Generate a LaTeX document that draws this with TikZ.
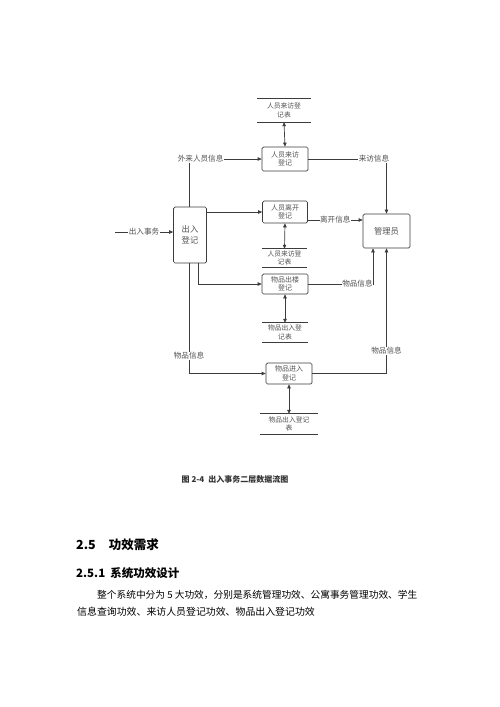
\documentclass[tikz,border=0pt]{standalone}
\usepackage{fontspec}
\setmainfont{Noto Sans CJK SC}
\usetikzlibrary{arrows.meta}
\definecolor{linegray}{HTML}{3C3C3C}
\definecolor{textgray}{HTML}{505050}
\begin{document}
\begin{tikzpicture}[x=1pt,y=-1pt,
	proc/.style={draw=linegray,line width=0.7pt,rounded corners=1.5pt,inner sep=0pt,align=center,text=textgray,font=\fontsize{7}{8.5}\selectfont},
	store/.style={inner sep=0pt,align=center,text=textgray,font=\fontsize{6.8}{8.5}\selectfont},
	flow/.style={draw=linegray,line width=0.7pt,-{Triangle[length=4pt,width=3.5pt]}},
	twoway/.style={draw=linegray,line width=0.7pt,{Triangle[length=4pt,width=3.5pt]}-{Triangle[length=4pt,width=3.5pt]}},
	lbl/.style={fill=white,inner sep=0.5pt,text=textgray,font=\fontsize{7.6}{9}\selectfont}]
\useasboundingbox (0,0) rectangle (500,707);

	\node[proc,minimum width=33pt,minimum height=56pt,font=\fontsize{8.3}{10.5}\selectfont] (reg) at (190,235) {出入\\登记};
	\node[proc,minimum width=46pt,minimum height=24pt] (visit) at (285,159) {人员来访\\登记};
	\node[proc,minimum width=45pt,minimum height=22pt] (leave) at (285,212) {人员离开\\登记};
	\node[proc,minimum width=46pt,minimum height=20pt] (goout) at (285,284) {物品出楼\\登记};
	\node[proc,minimum width=46pt,minimum height=21pt] (goin) at (289,373.5) {物品进入\\登记};
	\node[proc,minimum width=47pt,minimum height=34pt,font=\fontsize{8.3}{10}\selectfont] (mgr) at (386.5,231) {管理员};

	\node[store,minimum width=54pt,minimum height=23pt] (visitlog) at (284,110.5) {人员来访登\\记表};
	\node[store,minimum width=45pt,minimum height=18pt] (leavelog) at (284.5,258) {人员来访登\\记表};
	\node[store,minimum width=46pt,minimum height=19pt] (outlog) at (285,332.5) {物品出入登\\记表};
	\node[store,minimum width=58pt,minimum height=20pt] (inlog) at (289,424) {物品出入登记\\表};
	\foreach \s in {visitlog,leavelog,outlog,inlog}
		\draw[linegray,line width=0.7pt] (\s.north west) -- (\s.north east) (\s.south west) -- (\s.south east);

	\coordinate (src) at (115,232);
	\draw[flow] (src) -- (src -| reg.west) node[lbl,midway] {出入事务};
	\draw[flow] ([xshift=-1pt]reg.north) |- (visit.west) node[lbl,pos=0.58] {外来人员信息};
	\draw[flow] (visit.east) -| (mgr.north) node[lbl,pos=0.42] {来访信息};
	\draw[flow] (reg.east |- leave.west) -- (leave.west);
	\draw[flow] ([yshift=-8pt]leave.east) -- ([yshift=-8pt]leave.east -| mgr.west) node[lbl,midway] {离开信息};
	\draw[flow] ([xshift=8pt]reg.south) |- (goout.west);
	\draw[flow] ([xshift=-1pt]reg.south) |- (goin.west) node[lbl,pos=0.42] {物品信息};
	\draw[flow] (goout.east) -| ([xshift=-13.5pt]mgr.south) node[lbl,pos=0.38] {物品信息};
	\draw[flow] (goin.east) -| (mgr.south) node[lbl,pos=0.59] {物品信息};

	\draw[twoway] (visitlog.south) -- (visit.north);
	\draw[twoway] (leave.south) -- (leavelog.north);
	\draw[twoway] (goout.south) -- (outlog.north);
	\draw[twoway] (goin.south) -- (inlog.north);

	\node[font=\fontsize{8}{10}\selectfont\bfseries,text=black!80] (caption) at (235,479) {图 2-4\hspace{4pt}出入事务二层数据流图};
	\node[anchor=west,inner sep=0pt,font=\fontsize{12.5}{14}\selectfont\bfseries] (sec) at (76,545) {2.5\hspace{13pt}功效需求};
	\node[anchor=west,inner sep=0pt,font=\fontsize{11.5}{14}\selectfont\bfseries] (subsec) at (76,573) {2.5.1\hspace{5pt}系统功效设计};
	\node[anchor=west,inner sep=0pt,font=\fontsize{9.7}{12}\selectfont] (para1) at (97,595) {整个系统中分为 5 大功效，分别是系统管理功效、公寓事务管理功效、学生};
	\node[anchor=west,inner sep=0pt,font=\fontsize{9.9}{12}\selectfont] (para2) at (77,612) {信息查询功效、来访人员登记功效、物品出入登记功效};
\end{tikzpicture}
\end{document}
